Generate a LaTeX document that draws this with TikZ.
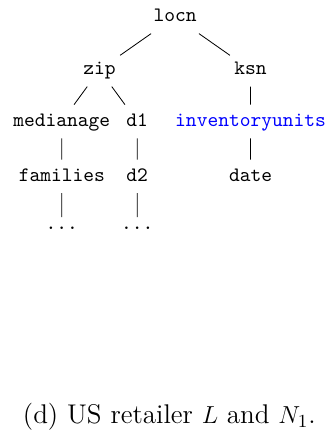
\documentclass[tikz,border=0pt]{standalone}
\usepackage{amsmath}
\usepackage{fontspec}

\begin{document}
\begin{tikzpicture}
	[x=1pt, y=1pt,
	every node/.style={font=\ttfamily, text height=6.5pt, text depth=1.5pt, inner xsep=2pt, inner ysep=4pt},
	dotnode/.style={text height=2pt},
	caption/.style={font=\fontsize{13.2}{16}\selectfont\rmfamily, text height=, text depth=, inner sep=0pt, anchor=base},
	level 1/.style={level distance=25.85pt, sibling distance=73.7pt},
	level 2/.style={level distance=25.2pt, sibling distance=36.8pt},
	level 3/.style={level distance=26.8pt},
	level 4/.style={level distance=25.8pt}]
	\useasboundingbox (0,0) rectangle (161.5,-209.8);
	\node (locn) at (85.4,-8.2) {locn}
	child {node (zip) {zip}
		child {
			node (medianage) {medianage}
			child {node (families) {families}
				child {node[dotnode] (famdots) {...}}
			}
		}
		child {
			node (d1) {d1}
			child {node (d2) {d2}
				child {node[dotnode] (d2dots) {...}}
			}
		}
	}
	child {node (ksn) {ksn}
		child {
			node[text=blue] (inventoryunits) {inventoryunits}
			child {node (date) {date}}
		}
	};
	\node[caption] (caption) at (82.6,-206.8) {(d) US retailer $L$ and $N_1$.};
\end{tikzpicture}
\end{document}
